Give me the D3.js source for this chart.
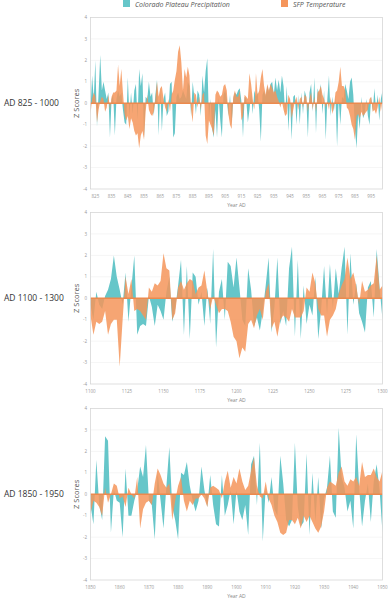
<!DOCTYPE html>
<html>
<head>
<meta charset="utf-8">
<script src="https://cdn.jsdelivr.net/npm/d3@7"></script>
<style>
  body { margin: 0; background: #fff; }
  svg text { font-family: 'Open Sans', sans-serif; }
</style>
</head>
<body>
<svg id="chart" width="389" height="600"></svg>
<script>
// ---- data (z scores) ----
const seriesNames = ['Colorado Plateau Precipitation', 'SFP Temperature'];
const periodLabels = ['AD 825 - 1000', 'AD 1100 - 1300', 'AD 1850 - 1950'];
const yTicks = [-4, -3, -2, -1, 0, 1, 2, 3, 4];

const years1 = d3.range(822, 1003);
const xTicks1 = d3.range(825, 1000, 10);
const precip1 = [
  -0.3, 1.3, 0.2, 2.0, -1.1, 0.5, 2.25, 0.6, 1.0, 0.6, 0.2,
  0.5, -1.6, 0.2, 0.4, -1.5, 0.2, 0.6, 0.3, 0.5, -0.3,
  -0.9, -1.0, 1.2, -0.6, 0.5, -0.5, 0.6, 0.9, -0.8, 1.6,
  0.8, 1.4, -1.6, 0.3, 0.2, 1.0, 0.3, 0.5, -0.6, 0.4,
  1.1, -1.5, 0.7, -1.3, 0.2, 0.5, -0.6, -0.4, 0.9, 1.0,
  -1.6, -1.4, 0.3, 0.5, 0.2, 0.3, 0.6, 0.4, 0.2, 1.0,
  0.8, -0.6, 1.0, 0.3, -0.5, 0.6, 0.4, -0.6, 1.3, 0.5,
  1.5, 2.1, -0.8, 0.2, -1.2, -1.6, -0.3, -1.6, 0.3, -0.8,
  -1.6, 0.4, 0.6, 0.2, -0.6, 0.4, -1.0, 0.2, 0.5, 0.4,
  0.6, 0.7, 0.1, -1.6, 0.3, 0.2, -0.9, -0.3, 0.5, -0.5,
  0.6, 0.3, 0.5, -0.3, -1.8, 0.4, 0.6, 0.3, 0.8, 0.5,
  0.9, 1.0, 0.4, 1.2, 0.6, 1.1, 0.5, 1.3, 0.8, -0.5,
  0.8, -1.3, 0.2, -1.7, 0.3, 0.4, -1.0, 0.4, -1.0, 0.5,
  -0.5, 0.6, 0.3, -1.6, 0.5, 0.9, -0.4, 1.2, -1.4, 0.7,
  0.4, 0.9, -0.5, 0.6, -1.7, 0.2, 1.3, -0.6, 0.3, -0.4,
  0.3, -2.0, 0.2, -1.0, 0.3, 0.2, 0.9, 0.6, 0.2, 1.0,
  1.2, 0.4, -1.2, -2.1, -0.5, -1.2, 0.3, -0.7, -0.5, 0.2, -0.6, -1.0, 0.3, -0.4, 0.7,
  -0.3, 0.4, -0.8, 0.2, 0.6
];
const temp1 = [
  -0.5, 0.2, 0.5, 0.3, -0.9, -0.3, 0.1, 0.3, 0.2, -0.4, -0.2,
  0.4, -0.3, 0.3, 0.5, 0.5, 0.6, 1.8, 0.8, 1.6, 0.5,
  -0.5, -0.8, -0.6, -1.2, -0.7, -0.9, -1.3, -1.5, -1.4, -2.1,
  -1.5, -1.3, -1.7, -0.4, 0.4, -0.3, -0.5, -0.6, -0.4, 0.2,
  1.0, 0.3, 0.7, 0.8, 0.2, -0.2, -0.4, 0.2, -0.4, 0.4,
  0.6, 1.1, 1.5, 2.4, 2.7, 1.9, 0.6, 1.6, 1.2, 1.7,
  1.3, -0.3, -0.9, 0.5, 0.4, -0.2, 0.3, -0.3, 0.4, 0.5,
  -1.5, -1.9, -0.8, -1.0, -1.2, -1.5, 0.4, 0.6, 0.5, 0.3,
  0.4, 0.8, 0.9, 0.6, -0.5, -1.0, -1.2, 0.3, 0.6, 0.3,
  0.3, 0.6, -0.8, -0.6, 0.4, 0.3, 0.2, 1.4, 0.9, 0.2,
  -0.3, 1.4, 0.4, 0.6, 1.2, 1.6, 0.8, 0.4, 0.9, 0.6,
  0.9, 0.7, 0.5, 0.6, 0.3, 0.1, -0.2, 0.1, -0.3, -0.6,
  -0.5, 0.4, 0.2, -0.7, -0.3, 0.1, 0.3, -0.3, 0.2, 0.3,
  -0.2, 0.4, 0.3, -0.4, 0.2, 0.5, -0.3, 0.3, -0.4, 0.5,
  0.6, 0.8, 0.4, 0.2, -0.2, 0.1, -0.3, 0.3, -0.5, -0.2,
  0.5, 0.6, 1.0, 1.7, 0.8, 0.8, 0.6, -0.2, -0.3, -0.6,
  -1.0, -1.2, -1.7, -0.6, -0.5, -0.7, -0.4, -0.6, -0.5, -0.4, -0.3, 0.2, 0.3, -0.4, -0.3,
  -0.5, -0.2, 0.3, -0.4, 0.2
];

const years2 = d3.range(1100, 1301, 2);
const xTicks2 = d3.range(1100, 1301, 25);
const precip2 = [
  -0.3, -1.0, 0.3, -0.3, -0.5, 0.1, 0.4, 0.9, 2.0, 1.0,
  0.4, -0.3, 1.2, -1.1, 0.5, 2.0, -1.7, -1.3, -1.2, -1.3,
  0.1, -0.4, -1.3, -0.3, -0.6, -1.0, 0.3, 1.0, -1.1, -0.5,
  0.6, 1.8, -1.7, 1.5, -1.9, 1.2, 1.0, -0.3, 0.3, -1.3,
  0.5, -1.2, 2.3, -2.3, 0.3, 0.9, -1.0, 1.7, 1.5, 0.5,
  1.9, 0.5, -1.0, -1.3, 1.4, 0.4, -1.3, -0.9, -1.5, -0.6,
  0.6, 1.9, -1.6, -0.4, 1.9, -1.2, -0.6, -1.3, 1.4, 2.4,
  -1.8, 1.8, -1.9, 0.6, -1.2, -0.3, -0.8, 1.0, -1.9, -0.5,
  1.5, -0.8, 1.6, -0.5, 1.4, 0.2, 1.4, 2.4, -1.7, 2.1,
  -0.3, 0.7, -0.7, -1.1, -1.6, 0.5, 0.8, -0.9, 2.3, 0.5,
  -1.0
];
const temp2 = [
  -0.8, -1.7, -1.1, -1.2, -1.1, -0.6, -1.7, -1.2, -1.0, -1.0,
  -3.2, -1.0, 1.0, 0.2, 0.9, -0.6, -0.5, -0.6, -0.8, -1.0,
  0.5, 0.3, 0.7, 0.6, 0.8, 2.1, 1.4, 1.3, -1.0, -0.7,
  0.5, 0.8, 0.4, 0.7, 0.9, 0.8, 0.2, 0.5, 0.6, 1.3,
  0.3, -0.5, 0.1, -0.3, -0.7, -0.5, -0.5, -0.6, -1.1, -1.8,
  -2.0, -2.8, -2.3, -2.5, -1.2, -1.0, -1.4, -0.8, -0.5, -1.0,
  0.3, 0.7, -1.4, -1.1, -1.8, -1.0, -0.8, -0.9, -1.1, -0.5,
  -0.9, -0.9, -0.9, -0.6, 0.5, 0.3, 1.2, 0.7, -0.5, -0.8,
  -0.8, -1.8, -1.0, -0.8, -0.5, 0.2, 0.6, 0.9, 1.9, 0.9,
  1.2, 0.6, -0.3, 0.8, 0.3, 0.4, 0.6, 0.7, 2.0, 0.4,
  0.6
];

const years3 = d3.range(1850, 1951);
const xTicks3 = d3.range(1850, 1951, 10);
const precip3 = [
  -0.5, -1.4, 1.6, -0.5, -1.2, 2.7, 2.5, -1.8, 0.2, -0.3,
  -0.4, -2.0, 1.2, -1.0, -1.0, -0.3, 0.2, 1.3, 0.8, 2.3,
  -0.3, -0.5, -2.1, 1.0, -0.3, -1.6, 0.4, 2.2, -0.6, -1.2,
  -2.1, 1.0, 0.9, 1.5, 0.4, -0.3, -0.8, -0.3, 1.3, 0.2,
  -0.6, 0.9, -0.5, -1.4, -1.5, 0.9, -1.0, -0.5, 0.2, -1.4,
  0.2, -0.8, -1.2, -0.5, -1.9, 1.4, 1.8, -0.5, 2.4, -2.2,
  0.3, -0.4, 0.8, -0.7, -1.0, 1.8, 0.5, -1.2, -1.5, -1.2,
  2.4, -0.6, -1.5, -1.3, 1.9, -1.9, 1.0, -1.3, 0.8, -1.6,
  -0.2, 0.3, 1.8, -0.8, -1.1, 3.1, 0.8, 0.3, -0.8, -0.3,
  -1.6, 2.8, 0.3, -1.5, -0.3, 0.5, -1.3, 0.6, 1.4, 0.2,
  -1.8
];
const temp3 = [
  -0.9, -0.3, -0.4, -0.6, -1.0, 0.3, -0.4, 0.0, 0.5, 0.4,
  -0.2, -0.1, -0.6, 0.3, 0.0, -0.2, 0.8, -1.6, -0.7, -0.4,
  -0.3, -0.5, 0.5, 1.2, 0.9, 0.5, 0.3, 0.5, -1.2, -0.3,
  0.4, 0.8, -0.3, -0.8, -0.3, -0.5, -0.2, -0.2, 0.0, -0.2,
  -0.6, 0.3, 0.4, 0.3, 0.2, -0.2, 0.6, 1.1, 0.3, 0.8,
  0.5, 1.2, 0.6, 0.2, 0.4, 1.1, 1.7, 0.4, -0.1, -0.2,
  0.6, -0.2, -0.5, -1.0, -1.3, -1.8, -1.9, -1.8, -1.2, -1.2,
  -1.4, -1.1, -1.6, -1.0, -1.3, -1.0, -1.3, -1.6, -1.8, -1.5,
  -0.8, 0.3, 0.6, 0.5, 0.4, 1.0, 1.3, 0.6, 0.4, 0.7,
  0.6, 0.8, 0.4, 1.5, 0.8, 0.9, 0.9, 1.2, 0.8, 0.6,
  1.1
];

// ---- drawing ----
const teal = '#66c6c9';
const orange = '#f5955b';

const svg = d3.select('#chart');

const drawLegend = () => {
  const legend = svg.append('g').attr('class', 'legend');
  const items = [
    { name: seriesNames[0], color: teal, x: 123 },
    { name: seriesNames[1], color: orange, x: 281 },
  ];
  items.forEach((item) => {
    legend
      .append('rect')
      .attr('x', item.x)
      .attr('y', 0)
      .attr('width', 7)
      .attr('height', 7)
      .attr('fill', item.color);
    legend
      .append('text')
      .attr('x', item.x + 12)
      .attr('y', 6.5)
      .attr('font-size', 7)
      .attr('font-style', 'italic')
      .attr('fill', '#555')
      .text(item.name);
  });
};

const drawPanel = (top, years, precip, temp, domain, ticks, label) => {
  const h = 171.5;
  const left = 90.5;
  const right = 382.5;

  const x = d3.scaleLinear().domain(domain).range([left, right]);
  const y = d3.scaleLinear().domain([-4, 4]).range([top + h, top]);

  const g = svg.append('g').attr('class', 'panel');

  // faint gridlines
  g.append('g')
    .selectAll('line')
    .data(yTicks.filter((d) => d !== 0 && Math.abs(d) !== 4))
    .join('line')
    .attr('x1', left)
    .attr('x2', right)
    .attr('y1', (d) => y(d))
    .attr('y2', (d) => y(d))
    .attr('stroke', '#f1f1f1')
    .attr('stroke-width', 0.7);

  const area = (values) =>
    d3
      .area()
      .x((d, i) => x(years[i]))
      .y0(y(0))
      .y1((d) => y(d))(values);

  g.append('path').attr('d', area(precip)).attr('fill', teal);
  g.append('path')
    .attr('d', area(temp))
    .attr('fill', orange)
    .attr('fill-opacity', 0.85);

  // zero line
  g.append('line')
    .attr('x1', left)
    .attr('x2', right)
    .attr('y1', y(0))
    .attr('y2', y(0))
    .attr('stroke', '#ec8a4e')
    .attr('stroke-width', 1.6);

  // frame
  g.append('rect')
    .attr('x', left)
    .attr('y', top)
    .attr('width', right - left)
    .attr('height', h)
    .attr('fill', 'none')
    .attr('stroke', '#d6d6d6')
    .attr('stroke-width', 0.8);

  // y ticks
  g.append('g')
    .selectAll('text')
    .data(yTicks)
    .join('text')
    .attr('x', left - 3.5)
    .attr('y', (d) => y(d) + 1.6)
    .attr('text-anchor', 'end')
    .attr('font-size', 4.5)
    .attr('fill', '#999')
    .text((d) => d);

  // x ticks
  g.append('g')
    .selectAll('text')
    .data(ticks)
    .join('text')
    .attr('x', (d) => x(d))
    .attr('y', top + h + 8.5)
    .attr('text-anchor', 'middle')
    .attr('font-size', 4.5)
    .attr('fill', '#999')
    .text((d) => d);

  g.append('text')
    .attr('x', (left + right) / 2)
    .attr('y', top + h + 17.5)
    .attr('text-anchor', 'middle')
    .attr('font-size', 5)
    .attr('fill', '#888')
    .text('Year AD');

  g.append('text')
    .attr('transform', `translate(78.5,${y(0)}) rotate(-90)`)
    .attr('text-anchor', 'middle')
    .attr('font-size', 7.5)
    .attr('fill', '#555')
    .text('Z Scores');

  g.append('text')
    .attr('x', 4)
    .attr('y', y(0) + 3)
    .attr('font-size', 8.5)
    .attr('fill', '#333')
    .text(label);
};

drawLegend();
drawPanel(17.5, years1, precip1, temp1, [822, 1002], xTicks1, periodLabels[0]);
drawPanel(212.5, years2, precip2, temp2, [1100, 1300], xTicks2, periodLabels[1]);
drawPanel(408.5, years3, precip3, temp3, [1850, 1950], xTicks3, periodLabels[2]);
</script>
</body>
</html>
